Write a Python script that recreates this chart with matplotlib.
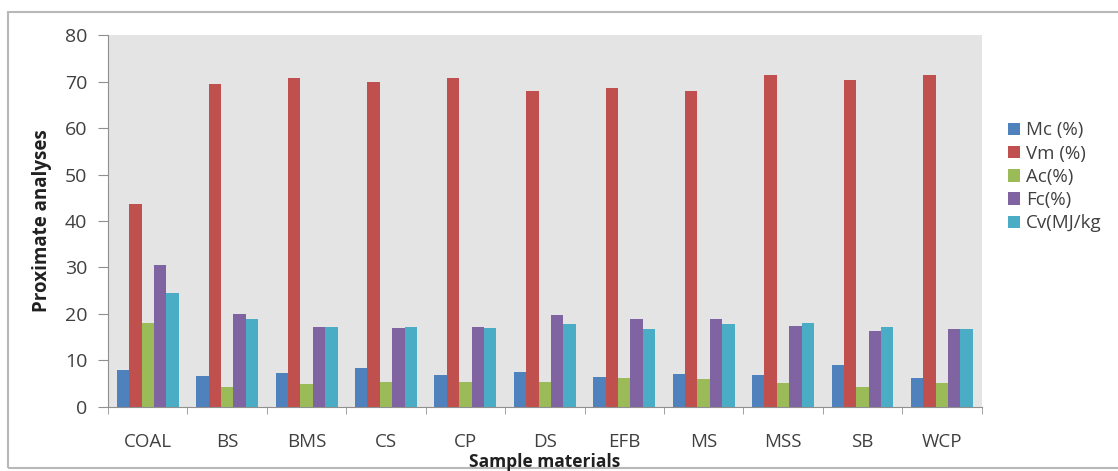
import numpy as np
import matplotlib
matplotlib.use("Agg")
from matplotlib import pyplot as plt
from matplotlib.patches import Rectangle

plt.rcParams['font.family'] = ['Open Sans', 'DejaVu Sans']

samples = ['COAL', 'BS', 'BMS', 'CS', 'CP', 'DS', 'EFB', 'MS', 'MSS', 'SB', 'WCP']
mc = [7.8, 6.6, 7.3, 8.3, 6.9, 7.4, 6.3, 7.0, 6.9, 8.9, 6.2]
vm = [43.6, 69.5, 70.9, 70.0, 70.9, 67.9, 68.6, 68.0, 71.4, 70.4, 71.4]
ac = [18.1, 4.3, 4.9, 5.3, 5.3, 5.3, 6.2, 5.9, 5.2, 4.2, 5.2]
fc = [30.5, 20.0, 17.2, 16.9, 17.1, 19.8, 18.8, 18.8, 17.4, 16.4, 16.8]
cv = [24.4, 18.8, 17.2, 17.1, 16.9, 17.9, 16.7, 17.9, 18.1, 17.2, 16.8]

series = [mc, vm, ac, fc, cv]
labels = ['Mc (%)', 'Vm (%)', 'Ac(%)', 'Fc(%)', 'Cv(MJ/kg']
colors = ['#4F81BD', '#C0504D', '#9BBB59', '#8064A2', '#4BACC6']

fig = plt.figure(figsize=(11.18, 4.71), dpi=100)
ax = fig.add_axes([0.0966, 0.1365, 0.7814, 0.7885])
ax.set_facecolor('#e4e4e4')

x = np.arange(len(samples))
w = 0.156
for i, (vals, lab, col) in enumerate(zip(series, labels, colors)):
    ax.bar(x + (i - 2) * w, vals, width=w, color=col, label=lab)

ax.set_xlim(-0.5, len(samples) - 0.5)
ax.set_ylim(0, 80)
ax.set_yticks(range(0, 81, 10))
ax.set_xticks(x)
ax.set_xticklabels(samples)
ax.set_xticks(np.arange(-0.5, len(samples)), minor=True)
ax.tick_params(axis='x', which='major', length=0, pad=19, labelsize=13.5, labelcolor='#404040')
ax.tick_params(axis='x', which='minor', length=5, color='#909090', direction='out')
ax.tick_params(axis='y', length=7, color='#909090', labelsize=14, labelcolor='#404040', pad=8)
for s in ['top', 'right']:
    ax.spines[s].set_visible(False)
for s in ['left', 'bottom']:
    ax.spines[s].set_color('#909090')

ax.set_ylabel('Proximate analyses', fontsize=13.5, fontweight='bold', color='#202020', labelpad=9)
fig.text(0.4875, 0.0, 'Sample materials', fontsize=12.5, fontweight='bold', color='#202020',
         ha='center', va='bottom')

fig.legend(loc='upper left', bbox_to_anchor=(0.895, 0.758), frameon=False, fontsize=13.5,
           handlelength=0.65, handleheight=0.65, handletextpad=0.3, labelspacing=0.28,
           labelcolor='#404040', borderaxespad=0)

# outer chart frame
fig.patches.append(Rectangle((8 / 1118, 3 / 471), 1.2, 456 / 471, transform=fig.transFigure,
                             fill=False, edgecolor='#b8b8b8', linewidth=1.5))

fig.savefig('out.png', dpi=100)
